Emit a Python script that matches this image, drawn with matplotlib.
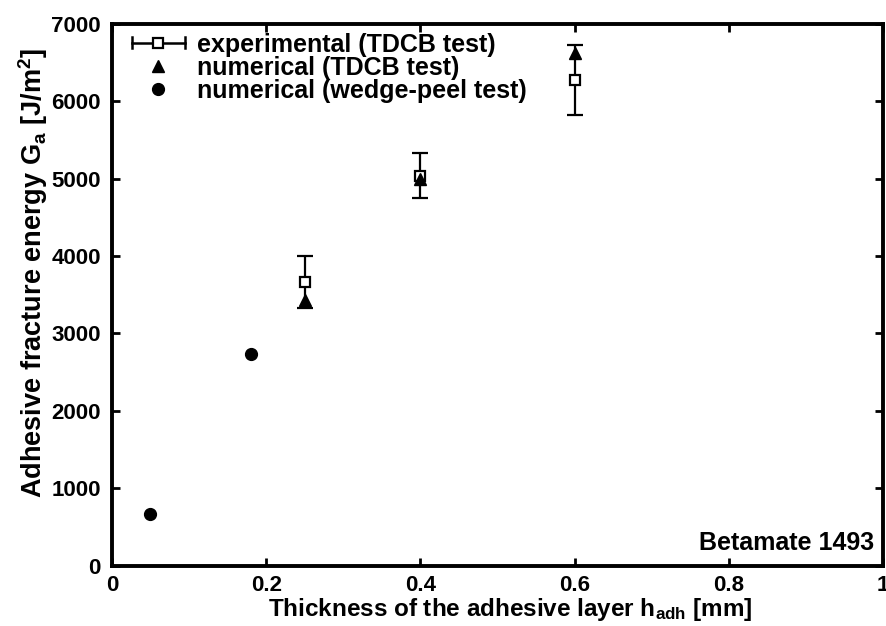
import matplotlib
matplotlib.use("Agg")
import matplotlib.pyplot as plt
from matplotlib.lines import Line2D
from matplotlib.legend_handler import HandlerBase

plt.rcParams['mathtext.fontset'] = 'custom'
plt.rcParams['mathtext.rm'] = 'Liberation Sans:bold'
plt.rcParams['mathtext.bf'] = 'Liberation Sans:bold'
plt.rcParams['mathtext.it'] = 'Liberation Sans:bold'

# Data
exp_x = [0.25, 0.40, 0.60]
exp_y = [3668, 5040, 6276]
exp_err = [335, 287, 450]
num_tdcb_x = [0.25, 0.40, 0.60]
num_tdcb_y = [3432, 5000, 6630]
wedge_x = [0.049, 0.18]
wedge_y = [666, 2734]

xticks = [0, 0.2, 0.4, 0.6, 0.8, 1]
xticklabels = ["0", "0.2", "0.4", "0.6", "0.8", "1"]
yticks = [0, 1000, 2000, 3000, 4000, 5000, 6000, 7000]

FONT = "Liberation Sans"

fig = plt.figure(figsize=(8.87, 6.26), dpi=100)
ax = fig.add_axes([0.1263, 0.0966, 0.8692, 0.8651])

ax.errorbar(exp_x, exp_y, yerr=exp_err, fmt='s', color='black', mfc='white', mec='black',
            ms=7, mew=1.6, elinewidth=1.6, capsize=6, capthick=1.8, zorder=2)
ax.plot(num_tdcb_x, num_tdcb_y, '^', color='black', ms=9, zorder=3, linestyle='none')
ax.plot(wedge_x, wedge_y, 'o', color='black', ms=8.5, zorder=3, linestyle='none')

ax.set_xlim(0, 1)
ax.set_ylim(0, 7000)
ax.set_xticks(xticks)
ax.set_xticklabels(xticklabels)
ax.set_yticks(yticks)

for s in ax.spines.values():
    s.set_linewidth(2.8)
ax.tick_params(direction='in', length=6, width=2, top=True, right=True)
ax.tick_params(axis='x', pad=7)
ax.tick_params(axis='y', pad=8)
for lab in ax.get_xticklabels():
    lab.set_fontfamily(FONT); lab.set_fontweight('bold'); lab.set_fontsize(16)
for lab in ax.get_yticklabels():
    lab.set_fontfamily(FONT); lab.set_fontweight('bold'); lab.set_fontsize(16)

ax.set_xlabel(r"Thickness of the adhesive layer h$_{\mathbf{adh}}$ [mm]", fontfamily=FONT,
              fontweight='bold', fontsize=17.5, labelpad=0)
ax.xaxis.label.set_x(0.516)
ax.set_ylabel(r"Adhesive fracture energy G$_{\mathbf{a}}$ [J/m$^{\mathbf{2}}$]", fontfamily=FONT,
              fontweight='bold', fontsize=19.5, labelpad=1)
ax.yaxis.label.set_y(0.54)

ax.text(0.9886, 0.028, "Betamate 1493", transform=ax.transAxes, ha='right', va='baseline',
        fontfamily=FONT, fontweight='bold', fontsize=18)


class ErrHandler(HandlerBase):
    def create_artists(self, legend, orig_handle, xdescent, ydescent, width, height, fontsize, trans):
        y = height / 2 - ydescent
        x0, x1 = -xdescent, -xdescent + width
        line = Line2D([x0, x1], [y, y], color='black', lw=1.8, transform=trans)
        c1 = Line2D([x0, x0], [y - 4, y + 4], color='black', lw=1.8, transform=trans)
        c2 = Line2D([x1, x1], [y - 4, y + 4], color='black', lw=1.8, transform=trans)
        m = Line2D([(x0 + x1) / 2], [y], marker='s', ms=6.5, mfc='white', mec='black', mew=1.6,
                   transform=trans, linestyle='none')
        return [line, c1, c2, m]


h_exp = Line2D([], [], color='black')
h_tri = Line2D([], [], marker='^', color='black', ms=9, linestyle='none')
h_dot = Line2D([], [], marker='o', color='black', ms=8.5, linestyle='none')
leg = ax.legend([h_exp, h_tri, h_dot],
                ["experimental (TDCB test)", "numerical (TDCB test)", "numerical (wedge-peel test)"],
                handler_map={h_exp: ErrHandler()}, loc='upper left', frameon=False,
                prop={'family': FONT, 'weight': 'bold', 'size': 18},
                handlelength=2.1, handletextpad=0.48, labelspacing=-0.03,
                borderaxespad=0.0, borderpad=0.0, bbox_to_anchor=(0.026, 0.984))

fig.savefig("out.png", dpi=100)
